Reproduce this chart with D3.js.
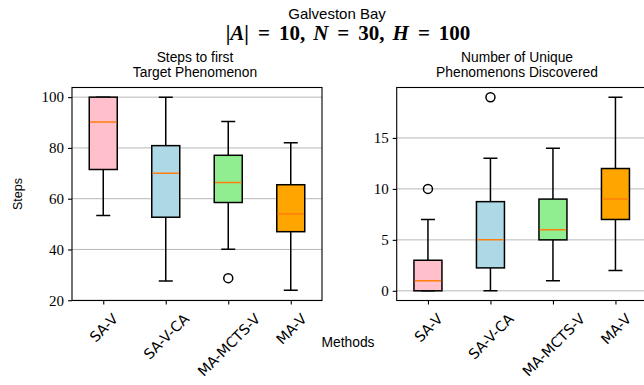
<!DOCTYPE html>
<html>
<head>
<meta charset="utf-8">
<script src="https://cdn.jsdelivr.net/npm/d3@7"></script>
<style>
  html, body { margin: 0; padding: 0; background: #fff; }
  svg { display: block; }
</style>
</head>
<body>
<svg id="chart" width="644" height="385"></svg>
<script>
// Methods compared in both panels
const methods = ["SA-V", "SA-V-CA", "MA-MCTS-V", "MA-V"];
const boxColors = ["#ffc0cb", "#add8e6", "#90ee90", "#ffa500"];

// Steps to first target phenomenon (box statistics per method)
const stepsWhiskerLow  = [53.4, 27.6, 40.1, 23.9];
const stepsQ1          = [71.5, 52.7, 58.5, 47.0];
const stepsMedian      = [90.2, 70.0, 66.4, 54.0];
const stepsQ3          = [100, 80.9, 77.1, 65.5];
const stepsWhiskerHigh = [100, 100, 90.4, 82.0];
const stepsOutliers    = [[], [], [28.7], []];
const stepsTicks       = [20, 40, 60, 80, 100];

// Number of unique phenomenons discovered (box statistics per method)
const uniqueWhiskerLow  = [0, 0, 1, 2];
const uniqueQ1          = [0, 2.25, 5, 7];
const uniqueMedian      = [1, 5, 6, 9];
const uniqueQ3          = [3, 8.75, 9, 12];
const uniqueWhiskerHigh = [7, 13, 14, 19];
const uniqueOutliers    = [[10], [19], [], []];
const uniqueTicks       = [0, 5, 10, 15];

const svg = d3.select("#chart");
const sansFont = "'Liberation Sans', 'DejaVu Sans', sans-serif";
const tickFont = "'DejaVu Sans', sans-serif";
const serifFont = "'Liberation Serif', 'DejaVu Serif', serif";

const plotTop = 87.5, plotBottom = 300.5;

function panel(opts) {
  const { left, right, domain, ticks, low, q1, med, q3, high, outliers, titleLines } = opts;
  const g = svg.append("g");
  const x = d3.scaleLinear().domain([0.5, 4.5]).range([left, right]);
  const y = d3.scaleLinear().domain(domain).range([plotBottom, plotTop]);

  // clip so content stays inside the axes
  const clipId = "clip" + Math.round(left);
  svg.append("clipPath").attr("id", clipId)
    .append("rect").attr("x", left).attr("y", plotTop - 6).attr("width", right - left).attr("height", plotBottom - plotTop + 12);

  // horizontal grid
  g.append("g")
    .selectAll("line").data(ticks).join("line")
    .attr("x1", left).attr("x2", right)
    .attr("y1", d => y(d)).attr("y2", d => y(d))
    .attr("stroke", "#b0b0b0").attr("stroke-width", 0.9);

  const boxes = g.append("g").attr("clip-path", `url(#${clipId})`);
  const bw = 28, cw = 14;
  methods.forEach((m, i) => {
    const cx = x(i + 1);
    const bg = boxes.append("g");
    // whiskers
    bg.append("line").attr("x1", cx).attr("x2", cx).attr("y1", y(q3[i])).attr("y2", y(high[i]))
      .attr("stroke", "#000").attr("stroke-width", 1.5);
    bg.append("line").attr("x1", cx).attr("x2", cx).attr("y1", y(q1[i])).attr("y2", y(low[i]))
      .attr("stroke", "#000").attr("stroke-width", 1.5);
    // caps
    [low[i], high[i]].forEach(v => {
      bg.append("line").attr("x1", cx - cw / 2).attr("x2", cx + cw / 2).attr("y1", y(v)).attr("y2", y(v))
        .attr("stroke", "#000").attr("stroke-width", 1.5);
    });
    // box
    bg.append("rect").attr("x", cx - bw / 2).attr("width", bw)
      .attr("y", y(q3[i])).attr("height", Math.max(0, y(q1[i]) - y(q3[i])))
      .attr("fill", boxColors[i]).attr("stroke", "#000").attr("stroke-width", 1.5);
    // median
    bg.append("line").attr("x1", cx - bw / 2 + 0.75).attr("x2", cx + bw / 2 - 0.75)
      .attr("y1", y(med[i])).attr("y2", y(med[i]))
      .attr("stroke", "#ff7f0e").attr("stroke-width", 1.5);
    // outliers
    outliers[i].forEach(v => {
      bg.append("circle").attr("cx", cx).attr("cy", y(v)).attr("r", 4.5)
        .attr("fill", "none").attr("stroke", "#000").attr("stroke-width", 1.5);
    });
  });

  // axes frame
  g.append("rect").attr("x", left).attr("y", plotTop).attr("width", right - left).attr("height", plotBottom - plotTop)
    .attr("fill", "none").attr("stroke", "#000").attr("stroke-width", 1.1);

  // y axis
  const yAxis = g.append("g").attr("transform", `translate(${left},0)`)
    .call(d3.axisLeft(y).tickValues(ticks).tickSize(4).tickPadding(4).tickFormat(d3.format("d")));
  yAxis.select(".domain").remove();
  yAxis.selectAll(".tick line").attr("stroke", "#000").attr("stroke-width", 1.1);
  yAxis.selectAll(".tick text").attr("font-family", serifFont).attr("font-size", 15).attr("fill", "#000");

  // x axis, labels rotated 45 degrees and centred under each tick
  const xAxis = g.append("g").attr("transform", `translate(0,${plotBottom})`)
    .call(d3.axisBottom(x).tickValues([1, 2, 3, 4]).tickSize(4).tickFormat(d => methods[d - 1]));
  xAxis.select(".domain").remove();
  xAxis.selectAll(".tick line").attr("stroke", "#000").attr("stroke-width", 1.1);
  const fs = 14.3;
  xAxis.selectAll(".tick text").each(function () {
    const t = d3.select(this);
    t.attr("font-family", tickFont).attr("font-size", fs).attr("fill", "#000")
      .attr("text-anchor", "middle").attr("y", 0).attr("dy", "0.36em");
    const L = this.getComputedTextLength();
    const h = fs * 0.73;
    const half = (L + h) / (2 * Math.SQRT2);
    t.attr("transform", `translate(0,${12 + half}) rotate(-45)`);
  });

  // panel title
  titleLines.forEach((s, k) => {
    svg.append("text").attr("x", opts.titleX).attr("y", 61.7 + k * 15.6)
      .attr("text-anchor", "middle").attr("font-family", sansFont).attr("font-size", 13.8)
      .text(s);
  });
  return g;
}

panel({
  left: 72, right: 322, domain: [19.9, 103.8], ticks: stepsTicks,
  low: stepsWhiskerLow, q1: stepsQ1, med: stepsMedian, q3: stepsQ3, high: stepsWhiskerHigh,
  outliers: stepsOutliers, titleLines: ["Steps to first", "Target Phenomenon"], titleX: 195
});
panel({
  left: 396.7, right: 646.7, domain: [-0.95, 19.95], ticks: uniqueTicks,
  low: uniqueWhiskerLow, q1: uniqueQ1, med: uniqueMedian, q3: uniqueQ3, high: uniqueWhiskerHigh,
  outliers: uniqueOutliers, titleLines: ["Number of Unique", "Phenomenons Discovered"], titleX: 517
});

// y axis label
svg.append("text").attr("transform", "translate(21.5,194) rotate(-90)")
  .attr("text-anchor", "middle").attr("font-family", sansFont).attr("font-size", 12.5).text("Steps");

// x axis label
svg.append("text").attr("x", 348).attr("y", 346.7)
  .attr("text-anchor", "middle").attr("font-family", sansFont).attr("font-size", 13.8).text("Methods");

// figure title
svg.append("text").attr("x", 337).attr("y", 19)
  .attr("text-anchor", "middle").attr("font-family", sansFont).attr("font-size", 15).text("Galveston Bay");

// parameter line, typeset like math: relation and comma spacing given as dx
const sub = svg.append("text").attr("x", 348).attr("y", 40)
  .attr("text-anchor", "middle").attr("font-family", serifFont).attr("font-size", 21).attr("font-weight", "bold");
const rel = 9, comma = 8;
[
  ["|", false, 0], ["A", true, 0], ["|", false, 0],
  ["=", false, rel], ["10,", false, rel],
  ["N", true, comma], ["=", false, rel], ["30,", false, rel],
  ["H", true, comma], ["=", false, rel], ["100", false, rel]
].forEach(([s, it, dx]) => sub.append("tspan")
  .attr("font-style", it ? "italic" : "normal").attr("dx", dx).text(s));
</script>
</body>
</html>
